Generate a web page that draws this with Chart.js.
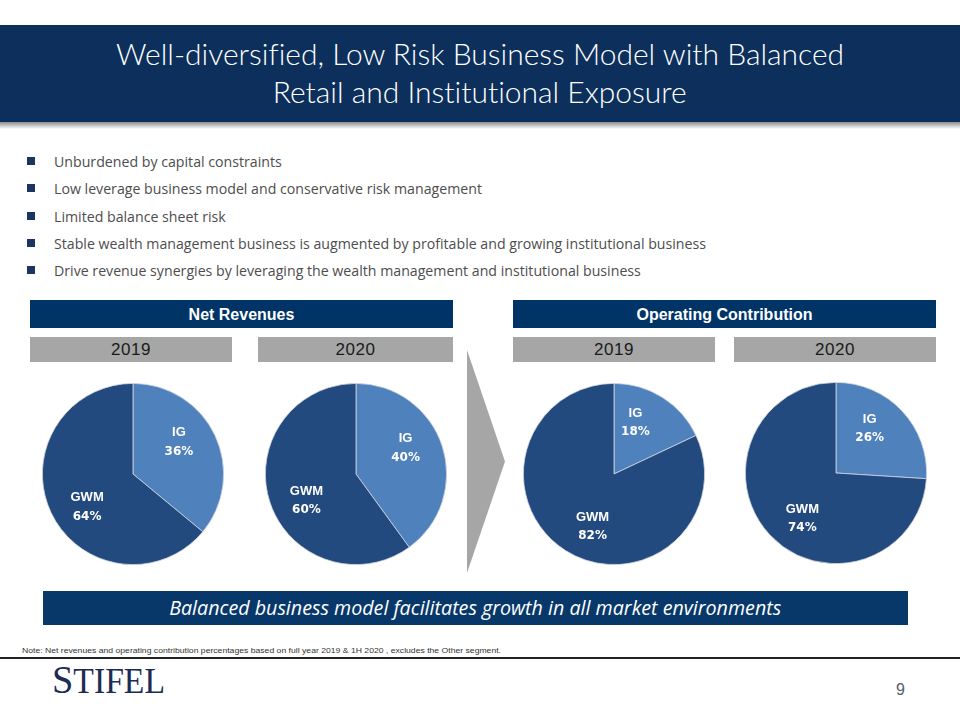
<!DOCTYPE html>
<html>
<head>
<meta charset="utf-8">
<script src="https://cdn.jsdelivr.net/npm/chart.js@4.4.0/dist/chart.umd.min.js"></script>
<style>
  html, body { margin:0; padding:0; background:#fff; }
  body { width:960px; height:720px; position:relative; overflow:hidden; font-family:"Liberation Sans",sans-serif; font-variant-ligatures:none; }
  .abs { position:absolute; }
  .fit { display:inline-block; white-space:nowrap; }
  #titlebar { left:0; top:25px; width:960px; height:97px; background:#0c2f5b; color:#fff; text-align:center;
    font-family:"Lato","Roboto",sans-serif; font-weight:300; font-size:29.5px; line-height:38px; padding-top:10px; box-sizing:border-box; }
  #titlebar .fit { transform-origin:center; }
  #shadow { left:0; top:122px; width:960px; height:7px; background:linear-gradient(#8c8c8c,#fff); }
  #bullets { left:27px; top:150px; margin:0; padding:0; list-style:none; font-family:"Open Sans",sans-serif; font-size:15px; color:#4d4d4d; }
  #bullets li { height:27.3px; line-height:22px; position:relative; white-space:nowrap; }
  #bullets li .sq { position:absolute; left:0; top:7px; width:8px; height:8px; background:#1a3560; }
  #bullets li .fit { position:absolute; left:27px; top:0; transform-origin:left center; }
  .hdr { height:28px; background:#003466; color:#fff; font-weight:bold; font-size:16px; line-height:29px; text-align:center; }
  .yr { height:25px; background:#a6a6a6; color:#1a1a1a; font-family:"Liberation Sans",sans-serif; font-size:17px; line-height:26px; text-align:center; letter-spacing:0.6px; }
  .pie { width:182px; height:182px; }
  #arrow { left:467px; top:350px; width:38px; height:223px; background:#a6a6a6; clip-path:polygon(0 0,100% 50%,0 100%); }
  #banner { left:43px; top:591px; width:865px; height:34px; background:#08386a; color:#fff; font-style:italic; font-size:20px; line-height:34px; text-align:center; font-family:"Open Sans",sans-serif; }
  #banner .fit { transform-origin:center; }
  #note { left:22px; top:646px; font-size:7.5px; color:#333; font-family:"Liberation Sans",sans-serif; white-space:nowrap; }
  #note .fit { transform-origin:left center; }
  #rule { left:0; top:657px; width:960px; height:2px; background:#222; }
  #logo { left:52px; top:661px; font-family:"Liberation Serif",serif; color:#1c2c54; font-size:36px; line-height:36px; white-space:nowrap; }
  #logo .fit { transform-origin:left bottom; }
  #logo .big { font-size:41px; }
  #page { left:896px; top:681px; font-size:16px; color:#556070; font-family:"Liberation Sans",sans-serif; }
</style>
</head>
<body>
<div id="titlebar" class="abs"></div>
<div id="shadow" class="abs"></div>
<ul id="bullets" class="abs"></ul>

<div class="abs hdr" style="left:30px;top:300px;width:423px;" id="hdrL"></div>
<div class="abs hdr" style="left:513px;top:300px;width:423px;" id="hdrR"></div>
<div class="abs yr" style="left:30px;top:337px;width:202px;" id="yr0"></div>
<div class="abs yr" style="left:258px;top:337px;width:195px;" id="yr1"></div>
<div class="abs yr" style="left:513px;top:337px;width:202px;" id="yr2"></div>
<div class="abs yr" style="left:734px;top:337px;width:202px;" id="yr3"></div>

<div class="abs pie" style="left:42px;top:383px;"><canvas id="c0"></canvas></div>
<div class="abs pie" style="left:265px;top:383px;"><canvas id="c1"></canvas></div>
<div class="abs pie" style="left:523px;top:383px;"><canvas id="c2"></canvas></div>
<div class="abs pie" style="left:745px;top:382px;"><canvas id="c3"></canvas></div>

<div id="arrow" class="abs"></div>
<div id="banner" class="abs"><span class="fit" id="bannerText">Balanced business model facilitates growth in all market environments</span></div>
<div id="note" class="abs"><span class="fit" id="noteText">Note: Net revenues and operating contribution percentages based on full year 2019 &amp; 1H 2020 , excludes the Other segment.</span></div>
<div id="rule" class="abs"></div>
<div id="logo" class="abs"><span class="fit" id="logoText"><span class="big">S</span>TIFEL</span></div>
<div id="page" class="abs">9</div>

<script>
// ---- Data ----
const segments = ['IG', 'GWM'];
const netRevenues2019 = [36, 64];
const netRevenues2020 = [40, 60];
const opContribution2019 = [18, 82];
const opContribution2020 = [26, 74];
const years = ['2019', '2020', '2019', '2020'];
const sectionTitles = ['Net Revenues', 'Operating Contribution'];
const titleLines = ['Well-diversified, Low Risk Business Model with Balanced', 'Retail and Institutional Exposure'];
const bulletPoints = [
  'Unburdened by capital constraints',
  'Low leverage business model and conservative risk management',
  'Limited balance sheet risk',
  'Stable wealth management business  is augmented by profitable and growing institutional business',
  'Drive revenue synergies by leveraging the wealth management and institutional business'
];
const segmentColors = ['#4f81bd', '#234a7e'];

// ---- helper: squeeze text horizontally to the reference's condensed width ----
function fitTo(el, target) {
  const w = el.getBoundingClientRect().width;
  if (w > 0) el.style.transform = 'scaleX(' + (target / w) + ')';
  return target / w;
}

// ---- Text ----
const tb = document.getElementById('titlebar');
titleLines.forEach((t, i) => {
  const s = document.createElement('span'); s.className = 'fit'; s.textContent = t;
  tb.appendChild(s); if (i < titleLines.length - 1) tb.appendChild(document.createElement('br'));
});
const ts = tb.querySelectorAll('.fit');
const tScale = 728 / ts[0].getBoundingClientRect().width;
ts.forEach(s => s.style.transform = 'scaleX(' + tScale + ')');

const ul = document.getElementById('bullets');
bulletPoints.forEach(t => {
  const li = document.createElement('li');
  const sq = document.createElement('span'); sq.className = 'sq';
  const sp = document.createElement('span'); sp.className = 'fit'; sp.textContent = t;
  li.appendChild(sq); li.appendChild(sp); ul.appendChild(li);
});
const bs = ul.querySelectorAll('.fit');
const bScale = 652 / bs[3].getBoundingClientRect().width;
bs.forEach(s => s.style.transform = 'scaleX(' + bScale + ')');

fitTo(document.getElementById('bannerText'), 612);
fitTo(document.getElementById('noteText'), 479);
fitTo(document.getElementById('logoText'), 113);

document.getElementById('hdrL').textContent = sectionTitles[0];
document.getElementById('hdrR').textContent = sectionTitles[1];
years.forEach((y, i) => document.getElementById('yr' + i).textContent = y);

// ---- Label plugin (labels sit inside each slice, like PowerPoint's best-fit) ----
const sliceLabels = {
  id: 'sliceLabels',
  afterDatasetsDraw(chart) {
    const ctx = chart.ctx;
    const meta = chart.getDatasetMeta(0);
    const vals = chart.data.datasets[0].data;
    ctx.save();
    ctx.fillStyle = '#fff';
    ctx.textAlign = 'center';
    ctx.textBaseline = 'middle';
    meta.data.forEach((arc, i) => {
      const p = arc.getProps(['x', 'y', 'startAngle', 'endAngle', 'outerRadius'], true);
      const mid = (p.startAngle + p.endAngle) / 2 - Math.PI / 18;
      const r = p.outerRadius * 0.62;
      const x = p.x + Math.cos(mid) * r;
      const y = p.y + Math.sin(mid) * r;
      ctx.font = 'bold 13px "Liberation Sans", sans-serif';
      ctx.fillText(chart.data.labels[i], x, y - 9);
      ctx.font = 'bold 12px "DejaVu Sans", sans-serif';
      ctx.fillText(vals[i] + '%', x, y + 10);
    });
    ctx.restore();
  }
};

function makePie(id, values) {
  new Chart(document.getElementById(id), {
    type: 'pie',
    data: {
      labels: segments,
      datasets: [{ data: values, backgroundColor: segmentColors, borderColor: '#d0d6e0', borderWidth: 0.8 }]
    },
    options: {
      responsive: true,
      maintainAspectRatio: false,
      animation: false,
      layout: { padding: 0 },
      plugins: { legend: { display: false }, tooltip: { enabled: false } }
    },
    plugins: [sliceLabels]
  });
}
makePie('c0', netRevenues2019);
makePie('c1', netRevenues2020);
makePie('c2', opContribution2019);
makePie('c3', opContribution2020);
</script>
</body>
</html>
